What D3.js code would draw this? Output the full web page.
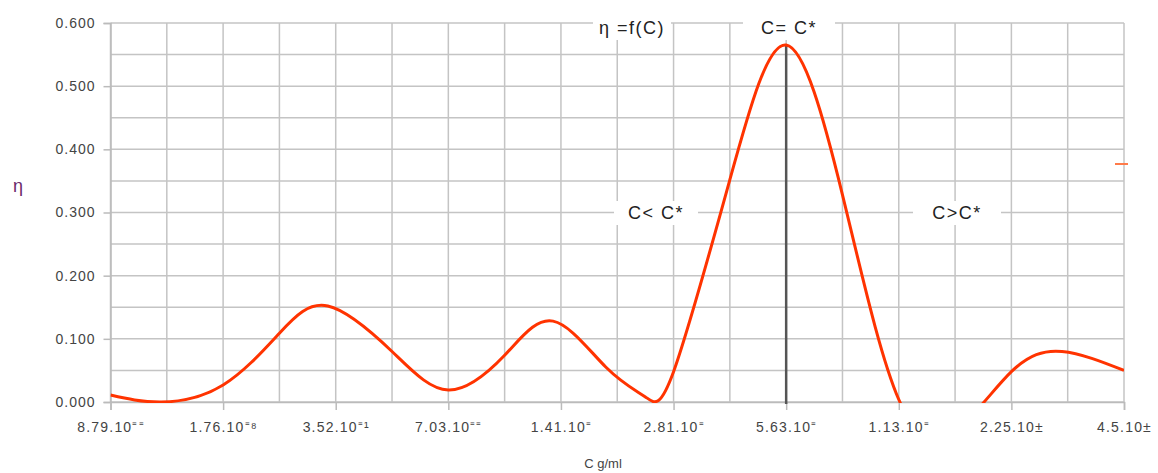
<!DOCTYPE html>
<html>
<head>
<meta charset="utf-8">
<script src="https://cdn.jsdelivr.net/npm/d3@7"></script>
<style>
  body { margin: 0; background: #fff; }
  text { font-family: Arial, "Liberation Sans", sans-serif; }
</style>
</head>
<body>
<div class="canvas"></div>
<script>
// categories (tick labels on the x axis)
const categories = ['8.79.10⁼⁼', '1.76.10⁼⁸', '3.52.10⁼¹', '7.03.10⁼⁼', '1.41.10⁼',
    '2.81.10⁼', '5.63.10⁼', '1.13.10⁼', '2.25.10±', '4.5.10±'];

// sampled points of the smoothed curve (position in category units, eta)
const curvePos = [0, 0.45, 1, 1.5, 1.93, 2.5, 3.0, 3.5, 3.93, 4.4, 4.75, 5.0, 5.5, 6.0, 6.5, 7.0, 7.5, 8.0, 8.45, 9.0];
const curveEta = [0.011, 0.0, 0.027, 0.109, 0.152, 0.080, 0.019, 0.074, 0.128, 0.055, 0.008, 0.048, 0.352, 0.565, 0.328, 0.004, -0.045, 0.048, 0.080, 0.050];

const yTicks = [0, 0.1, 0.2, 0.3, 0.4, 0.5, 0.6];
const peakPos = 6;     // C = C*
const peakEta = 0.565;

const svg = d3.select('.canvas')
    .append('svg')
        .attr('width', 1158)
        .attr('height', 473);

const x = d3.scaleLinear().domain([0, 9]).range([110.5, 1124]);
const y = d3.scaleLinear().domain([0, 0.6]).range([402, 23]);

// grid
const grid = svg.append('g');
grid.selectAll('line.v')
    .data(d3.range(0, 9.01, 0.5))
    .enter().append('line')
        .attr('x1', d => x(d)).attr('x2', d => x(d))
        .attr('y1', y(0.6)).attr('y2', y(0))
        .attr('stroke', '#c4c4c4').attr('stroke-width', 1.5);
grid.selectAll('line.h')
    .data(d3.range(0, 0.601, 0.05))
    .enter().append('line')
        .attr('x1', x(0)).attr('x2', x(9))
        .attr('y1', d => y(d)).attr('y2', d => y(d))
        .attr('stroke', '#c4c4c4').attr('stroke-width', 1.5);

// axes
const yAxis = d3.axisLeft(y).tickValues(yTicks).tickFormat(d3.format('.3f')).tickSize(7).tickPadding(8);
const xAxis = d3.axisBottom(x).tickValues(d3.range(0, 10)).tickFormat(i => categories[i]).tickSize(8).tickPadding(12);

const yAxisGroup = svg.append('g').attr('transform', `translate(${x(0)},0)`).call(yAxis);
const xAxisGroup = svg.append('g').attr('transform', `translate(0,${y(0)})`).call(xAxis);

[xAxisGroup, yAxisGroup].forEach(g => {
    g.select('.domain').attr('stroke', '#bbb').attr('stroke-width', 1.5);
    g.selectAll('.tick line').attr('stroke', '#bbb').attr('stroke-width', 1.5);
    g.selectAll('.tick text')
        .attr('fill', '#444')
        .style('font-size', '14px')
        .style('letter-spacing', '1px');
});
xAxisGroup.selectAll('.tick text').style('letter-spacing', '1.2px');

// curve, clipped to the plot area
svg.append('clipPath').attr('id', 'plot')
    .append('rect')
        .attr('x', x(0)).attr('y', 0)
        .attr('width', x(9) - x(0)).attr('height', y(0) + 1);

const pts = curvePos.map((p, i) => [p, curveEta[i]]);
const line = d3.line()
    .x(d => x(d[0]))
    .y(d => y(d[1]))
    .curve(d3.curveNatural);

// C* marker
svg.append('line')
    .attr('x1', x(peakPos)).attr('x2', x(peakPos))
    .attr('y1', y(peakEta)).attr('y2', y(0) + 2)
    .attr('stroke', '#555').attr('stroke-width', 2.5);

svg.append('path')
    .datum(pts)
    .attr('clip-path', 'url(#plot)')
    .attr('d', line)
    .attr('fill', 'none')
    .attr('stroke', '#ff3300')
    .attr('stroke-width', 3);

// annotations with white boxes
const notes = [
    {t: 'η =f(C)', x: 632, y: 28, w: 78},
    {t: 'C= C*', x: 789, y: 28, w: 92},
    {t: 'C< C*', x: 656, y: 213, w: 84},
    {t: 'C>C*', x: 957, y: 213, w: 88}
];
const ann = svg.append('g');
notes.forEach(n => {
    ann.append('rect')
        .attr('x', n.x - n.w / 2).attr('y', n.y - 12)
        .attr('width', n.w).attr('height', 24)
        .attr('fill', '#fff');
    ann.append('text')
        .attr('x', n.x).attr('y', n.y)
        .attr('text-anchor', 'middle')
        .attr('dominant-baseline', 'central')
        .attr('fill', '#222')
        .style('font-size', '18px')
        .style('letter-spacing', '1.5px')
        .text(n.t);
});

// axis titles
svg.append('text')
    .attr('x', 18).attr('y', 186)
    .attr('text-anchor', 'middle')
    .attr('dominant-baseline', 'central')
    .attr('fill', '#6b2a6b')
    .style('font-size', '18px')
    .text('η');

svg.append('text')
    .attr('x', 603).attr('y', 463)
    .attr('text-anchor', 'middle')
    .attr('dominant-baseline', 'central')
    .attr('fill', '#444')
    .style('font-size', '13px')
    .text('C g/ml');

// stray legend mark
svg.append('line')
    .attr('x1', 1115).attr('x2', 1128)
    .attr('y1', 164).attr('y2', 164)
    .attr('stroke', '#ff7b4a').attr('stroke-width', 2);
</script>
</body>
</html>
